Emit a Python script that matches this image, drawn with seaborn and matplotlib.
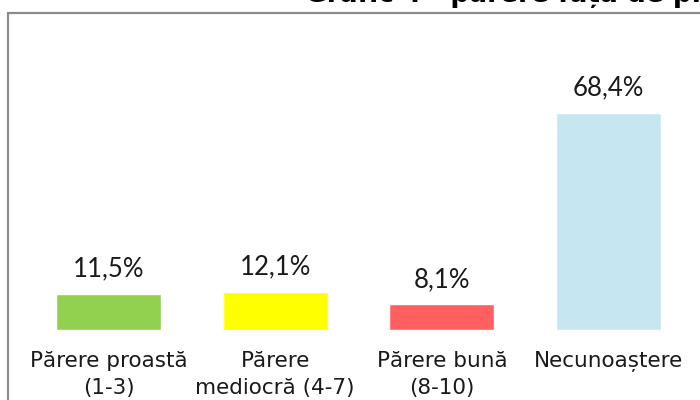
import matplotlib
matplotlib.use("Agg")
import matplotlib.pyplot as plt
import seaborn as sns
import pandas as pd
from matplotlib.lines import Line2D

categories = ["Părere proastă\n(1-3)", "Părere\nmediocră (4-7)", "Părere bună\n(8-10)", "Necunoaștere"]
values = [11.5, 12.1, 8.1, 68.4]
value_labels = ["11,5%", "12,1%", "8,1%", "68,4%"]
colors = ["#92D050", "#FFFF00", "#FF5F5F", "#C6E7F1"]
title = "Grafic 4 - părere față de proiectul propus"

sns.set_theme(style="white")
plt.rcParams['font.family'] = ['Lato', 'DejaVu Sans']

df = pd.DataFrame({"cat": categories, "val": values})

W, H = 700, 400
fig = plt.figure(figsize=(7, 4), dpi=100)
ax_left = 25.2 / W
ax_w = 666.7 / W
ax_bottom = (H - 330) / H
ax_h = 253.6 / H
ax = fig.add_axes([ax_left, ax_bottom, ax_w, ax_h])

sns.barplot(data=df, x="cat", y="val", hue="cat", palette=colors, width=0.63,
            legend=False, ax=ax, saturation=1, order=categories, hue_order=categories)

ax.set_xlim(-0.5, 3.5)
ax.set_ylim(0, 80)
for s in ax.spines.values():
    s.set_visible(False)
ax.set_yticks([])
ax.set_xlabel("")
ax.set_ylabel("")
ax.tick_params(axis="x", length=0, pad=15, labelsize=15.5, labelcolor="#1a1a1a")
for t in ax.get_xticklabels():
    t.set_linespacing(1.45)
    t.set_family(['DejaVu Sans'])
ax.patch.set_alpha(0)

for i, (v, lab) in enumerate(zip(values, value_labels)):
    ax.annotate(lab, xy=(i, v), xytext=(0, 12.5), textcoords="offset points",
                ha="center", va="baseline", fontsize=18.5, color="#1a1a1a")

# chart frame (partially visible)
fig.add_artist(Line2D([7.5 / W, 7.5 / W], [0, (H - 12.5) / H], transform=fig.transFigure,
                      color="#8c8c8c", lw=1.6))
fig.add_artist(Line2D([7.5 / W, 1.0], [(H - 12.5) / H, (H - 12.5) / H], transform=fig.transFigure,
                      color="#8c8c8c", lw=1.6))

fig.text(305 / W, (H - 2) / H, title, ha="left", va="baseline", fontsize=19,
         fontweight="bold", color="#000000", family=['DejaVu Sans'])

fig.savefig("out.png", dpi=100)
